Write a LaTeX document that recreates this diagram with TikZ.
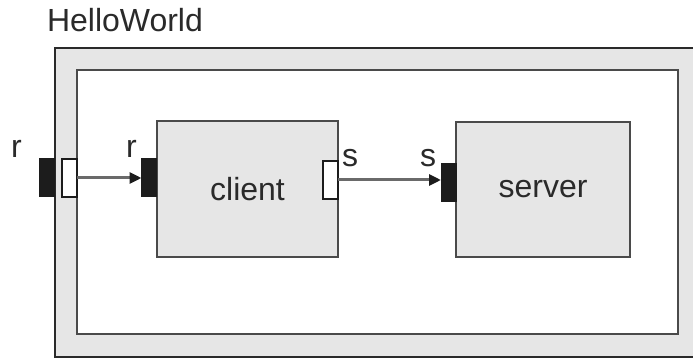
\documentclass[tikz,border=0pt]{standalone}
\usepackage{fontspec}
\setmainfont{Liberation Sans}
\usetikzlibrary{arrows.meta}
\definecolor{boxgrey}{HTML}{E6E6E6}
\definecolor{edge}{HTML}{4A4A4A}
\definecolor{ink}{HTML}{2A2A2A}
\definecolor{portdark}{HTML}{1C1C1C}
\definecolor{wire}{HTML}{6A6A6A}
\begin{document}
\begin{tikzpicture}[x=1pt,y=-1pt,
  every node/.style={inner sep=0pt,outer sep=0pt,text=ink,
    font=\fontsize{32}{36}\selectfont},
  part/.style={draw=edge,line width=1.8pt,fill=boxgrey},
  portin/.style={draw=portdark,fill=portdark,line width=0.8pt,minimum width=15pt,minimum height=38pt},
  portout/.style={draw=portdark,fill=white,line width=1.3pt,minimum width=15pt,minimum height=38pt},
  wirearrow/.style={draw=wire,line width=3pt,-{Triangle[length=12pt,width=11pt,color=portdark]}},
  lbl/.style={anchor=base west}]
\useasboundingbox (0,0) rectangle (693,358);
\clip (0,0) rectangle (693,358);
\fill[white] (0,0) rectangle (693,358);

% composite HelloWorld with its inner compartment
\node[draw=ink,line width=2pt,fill=boxgrey,minimum width=680pt,minimum height=309pt] (hw) at (395,202.5) {};
\node[draw=edge,line width=1.8pt,fill=white,minimum width=601pt,minimum height=264pt] (inner) at (377.5,202) {};
\node[lbl] (hwname) at (47,32) {HelloWorld};

% parts
\node[part,minimum width=181pt,minimum height=136pt] (client) at (247.5,189) {client};
\node[part,minimum width=174pt,minimum height=135pt] (server) at (543,189.5) {server};

% ports
\node[portin] (hwr) at (47,177.5) {};
\node[portout] (hwrin) at (69.5,178) {};
\node[portin] (cr) at (149,177.5) {};
\node[portout] (cs) at (330.5,180) {};
\node[portin] (ss) at (448.5,182) {};

% port labels
\node[lbl] (hwrlbl) at (11,158) {r};
\node[lbl] (crlbl) at (126,158) {r};
\node[lbl] (cslbl) at (342,167) {s};
\node[lbl] (sslbl) at (420,167) {s};

% connectors
\draw[wirearrow] (hwrin.east) -- (hwrin.east -| cr.west);
\draw[wirearrow] (cs.east) -- (cs.east -| ss.west);
\end{tikzpicture}
\end{document}
